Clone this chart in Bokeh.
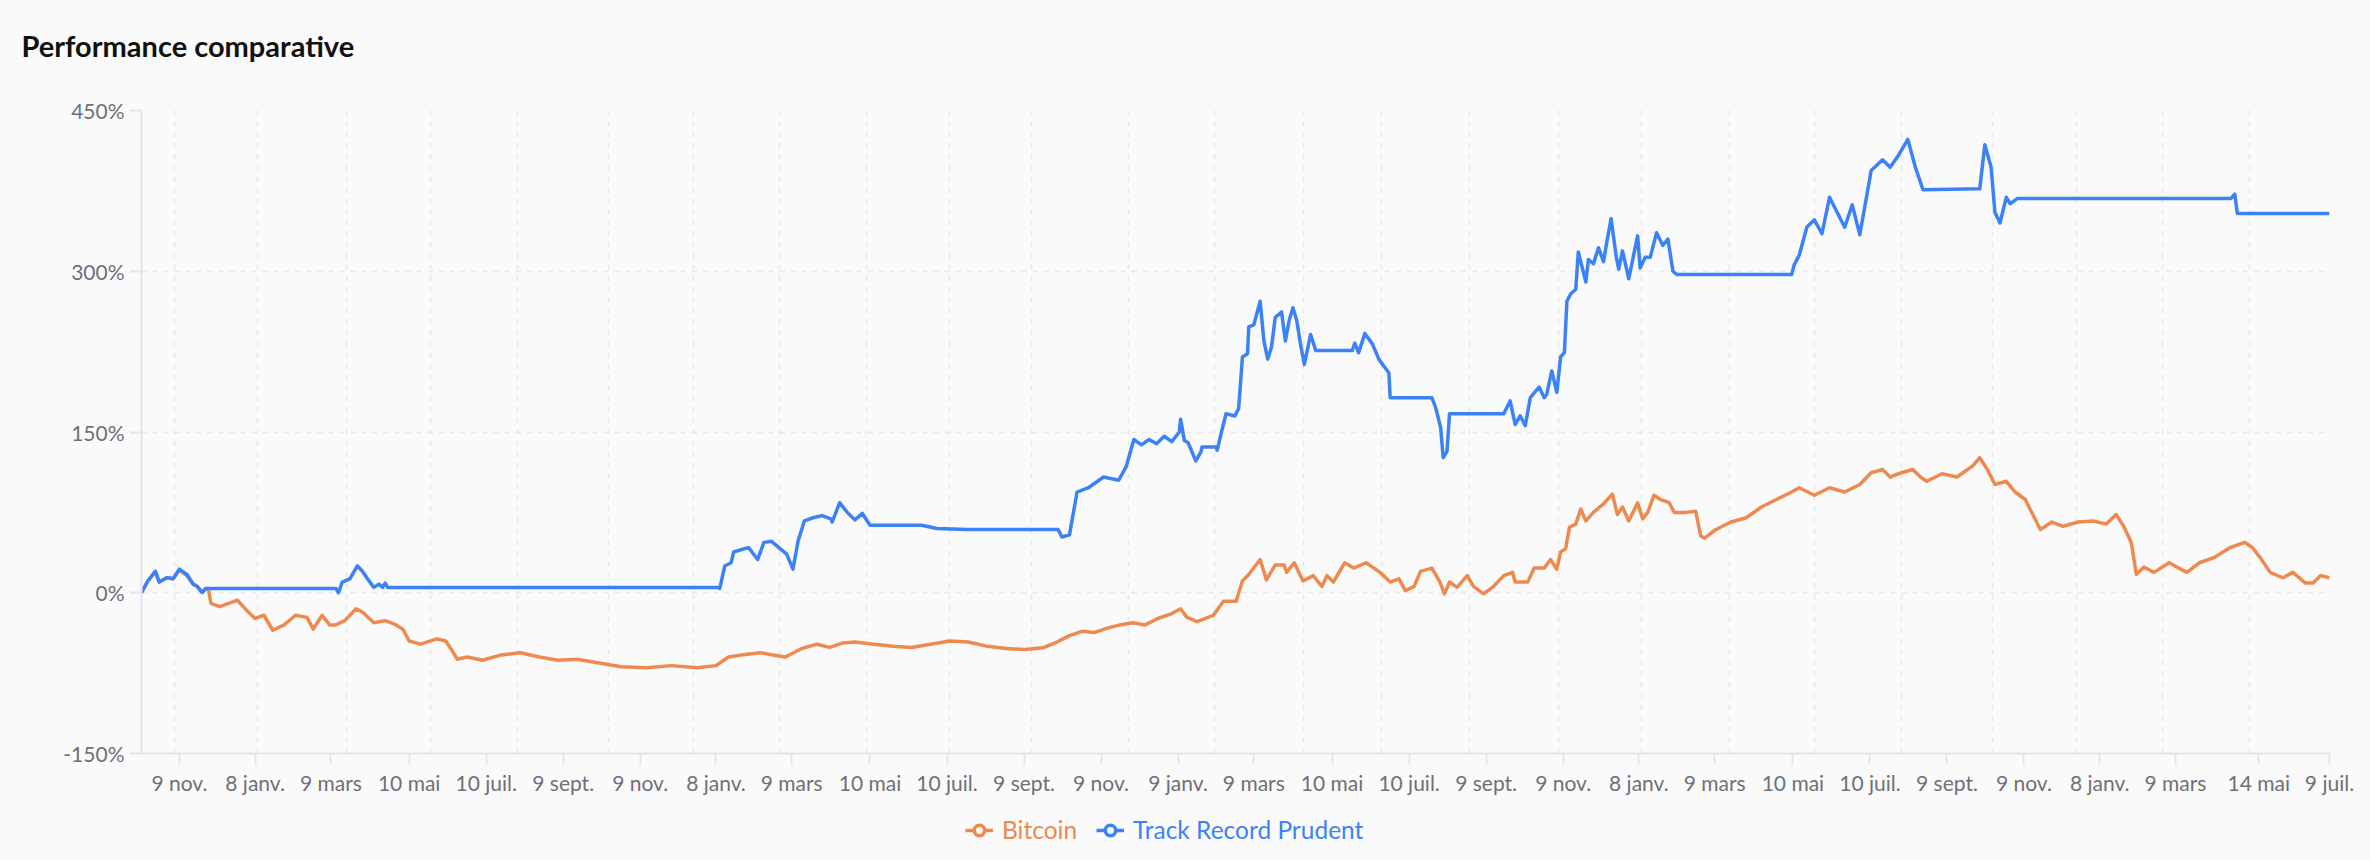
import pandas as pd
from bokeh.plotting import figure
from bokeh.layouts import column
from bokeh.models import (ColumnDataSource, Range1d, FixedTicker, CustomJSTickFormatter,
                          PrintfTickFormatter, Legend, LegendItem)
from bokeh.embed import file_html
from bokeh.resources import INLINE

# ---------------- data ----------------
start_date = "2021-10-10"
end_date = "2026-07-09"

# Bitcoin performance (%) ; x = days since start_date
btc_days = [0, 5, 11, 14, 20, 25, 30, 36, 41, 44, 48, 51, 53, 55, 62, 69, 76, 83, 90, 97, 104, 113, 122, 131,
            136, 143, 149, 154, 161, 170, 175, 184, 193, 200, 207, 212, 221, 234, 241, 246, 250, 258, 270, 285,
            300, 315, 330, 345, 360, 380, 400, 420, 440, 455, 465, 475, 490, 500, 510, 523, 535, 545, 555, 565,
            580, 595, 610, 625, 640, 655, 670, 685, 700, 715, 725, 735, 745, 755, 765, 775, 785, 795, 805, 815,
            823, 828, 836, 849, 857, 867, 872, 877, 886, 891, 898, 905, 907, 913, 920, 928, 935, 939, 944, 953,
            960, 970, 981, 989, 996, 1001, 1008, 1013, 1022, 1028, 1032, 1036, 1042, 1050, 1055, 1063, 1071,
            1079, 1086, 1088, 1098, 1103, 1111, 1116, 1121, 1124, 1128, 1131, 1136, 1140, 1144, 1150, 1158, 1165,
            1169, 1173, 1178, 1185, 1189, 1193, 1198, 1203, 1210, 1214, 1223, 1231, 1235, 1238, 1247, 1259, 1271,
            1283, 1295, 1307, 1313, 1325, 1337, 1349, 1361, 1370, 1379, 1385, 1394, 1403, 1409, 1414, 1426, 1438,
            1450, 1456, 1462, 1468, 1477, 1484, 1492, 1498, 1504, 1513, 1522, 1534, 1546, 1556, 1564, 1570, 1576,
            1580, 1586, 1594, 1606, 1612, 1620, 1630, 1642, 1654, 1666, 1672, 1678, 1686, 1696, 1704, 1714, 1720,
            1726, 1733]
btc_vals = [0, 11, 20, 10, 14, 13, 21, 16, 8, 6, 1, 4, 3, -10, -13, -10, -7, -16, -24, -21, -35, -30, -21, -23,
            -34, -21, -30, -30, -26, -15, -18, -28, -26, -29, -34, -45, -48, -43, -45, -54, -62, -60, -63, -58,
            -56, -60, -63, -62, -65, -69, -70, -68, -70, -68, -60, -58, -56, -58, -60, -52, -48, -51, -47, -46,
            -48, -50, -51, -48, -45, -46, -50, -52, -53, -51, -46, -40, -36, -37, -33, -30, -28, -30, -24, -20,
            -15, -23, -27, -21, -8, -8, 11, 17, 31, 12, 26, 26, 19, 28, 11, 16, 6, 16, 10, 28,
            23, 28, 19, 10, 13, 2, 6, 20, 23, 11, -1, 10, 5, 16, 6, -1, 6,
            16, 19, 10, 10, 23, 23, 31, 22, 38, 41, 61, 64, 78, 67, 75, 83, 92,
            73, 80, 67, 84, 69, 75, 91, 87, 84, 75, 75, 76, 53, 51, 59, 66, 70,
            80, 87, 94, 98, 91, 98, 94, 101, 112, 115, 108, 112, 115, 108, 104, 111, 108,
            118, 126, 115, 101, 104, 94, 87, 73, 59, 66, 62, 66, 67, 64, 73, 62, 47,
            17, 24, 19, 28, 24, 19, 28, 33, 42, 47, 42, 33, 19, 14, 19, 9, 9,
            16, 14]

# Track Record Prudent performance (%)
trp_days = [0, 5, 11, 14, 20, 25, 30, 36, 41, 44, 48, 51, 154, 156, 159, 165, 171, 175, 179, 184, 188, 191, 193,
            195, 456, 458, 462, 467, 469, 477, 481, 488, 493, 499, 506, 511, 516, 520, 525, 532, 539, 546, 547,
            553, 559, 565, 571, 577, 618, 630, 654, 726, 729, 735, 741, 750, 762, 774, 780, 786, 792, 798, 804,
            810, 816, 822, 823, 826, 829, 835, 839, 840, 851, 852, 855, 859, 866, 869, 872, 876, 877, 881, 886,
            889, 892, 895, 898, 903, 906, 909, 912, 915, 918, 921, 926, 930, 959, 961, 964, 969, 975, 980, 985,
            988, 989, 1022, 1025, 1029, 1031, 1034, 1036, 1079, 1084, 1088, 1092, 1096, 1100, 1107, 1111, 1113,
            1117, 1121, 1124, 1127, 1129, 1132, 1136, 1138, 1144, 1146, 1150, 1154, 1158, 1161, 1164, 1168, 1170,
            1173, 1178, 1182, 1185, 1187, 1191, 1195, 1200, 1205, 1209, 1213, 1216, 1307, 1309, 1313, 1319, 1325,
            1331, 1337, 1343, 1349, 1355, 1361, 1370, 1379, 1385, 1391, 1399, 1405, 1411, 1456, 1460, 1465, 1468,
            1472, 1477, 1480, 1486, 1655, 1658, 1660, 1733]
trp_vals = [0, 11, 20, 10, 14, 13, 22, 17, 8, 6, 0, 4, 4, 0, 10, 13, 25, 20, 13, 5, 8, 5, 9,
            5, 5, 4, 25, 28, 38, 41, 42, 31, 47, 48, 41, 36, 22, 48, 67, 70, 72, 69, 66,
            84, 75, 68, 74, 63, 63, 60, 59, 59, 52, 54, 94, 98, 108, 105, 118, 143, 138, 143, 139,
            146, 141, 150, 162, 142, 140, 123, 131, 136, 136, 133, 148, 167, 165, 172, 220, 223, 248, 250, 272,
            235, 218, 229, 257, 262, 235, 254, 266, 254, 232, 213, 241, 226, 226, 233, 224, 242, 232, 218, 210,
            205, 182, 182, 173, 154, 126, 132, 167, 167, 179, 157, 165, 156, 182, 192, 182, 185,
            207, 187, 220, 224, 272, 279, 283, 318, 290, 311, 307, 322, 309, 330, 349, 314, 302,
            319, 293, 316, 333, 303, 313, 313, 336, 324, 330, 300, 297, 297, 306, 315, 341, 348,
            335, 369, 355, 341, 362, 334, 394, 404, 397, 407, 423, 397, 376, 377, 418, 397, 355,
            345, 369, 363, 368, 368, 372, 354, 354]

tick_dates = ["2021-11-09", "2022-01-08", "2022-03-09", "2022-05-10", "2022-07-10", "2022-09-09",
              "2022-11-09", "2023-01-08", "2023-03-09", "2023-05-10", "2023-07-10", "2023-09-09",
              "2023-11-09", "2024-01-09", "2024-03-09", "2024-05-10", "2024-07-10", "2024-09-09",
              "2024-11-09", "2025-01-08", "2025-03-09", "2025-05-10", "2025-07-10", "2025-09-09",
              "2025-11-09", "2026-01-08", "2026-03-09", "2026-05-14", "2026-07-09"]
tick_labels = ["9 nov.", "8 janv.", "9 mars", "10 mai", "10 juil.", "9 sept.",
               "9 nov.", "8 janv.", "9 mars", "10 mai", "10 juil.", "9 sept.",
               "9 nov.", "9 janv.", "9 mars", "10 mai", "10 juil.", "9 sept.",
               "9 nov.", "8 janv.", "9 mars", "10 mai", "10 juil.", "9 sept.",
               "9 nov.", "8 janv.", "9 mars", "14 mai", "9 juil."]
grid_dates = ["2021-11-05", "2022-01-10", "2022-03-21", "2022-05-27", "2022-08-04", "2022-10-15",
              "2022-12-21", "2023-02-27", "2023-05-07", "2023-07-12", "2023-09-15", "2023-12-01",
              "2024-02-07", "2024-04-17", "2024-06-18", "2024-08-27", "2024-11-05", "2025-01-10",
              "2025-03-21", "2025-05-27", "2025-08-04", "2025-10-15", "2025-12-21", "2026-02-27",
              "2026-05-07", "2026-07-09"]
y_ticks = [-150, 0, 150, 300, 450]

title_text = "Performance comparative"
series_names = ["Bitcoin", "Track Record Prudent"]
ORANGE = "#EE8A4F"
BLUE = "#3B82F6"
FONT = "Lato"
LABEL_COLOR = "#6e7079"
BG = "#fafafa"
AXIS_COLOR = "#e3e5ec"
GRID_COLOR = "#e6e7ec"

# ---------------- helpers ----------------
start = pd.Timestamp(start_date)


def to_dt(days):
    return [start + pd.Timedelta(days=int(d)) for d in days]


def to_ms(dates):
    return [int((pd.Timestamp(d) - pd.Timestamp("1970-01-01")) // pd.Timedelta("1ms")) for d in dates]


btc_src = ColumnDataSource(dict(x=to_dt(btc_days), y=btc_vals))
trp_src = ColumnDataSource(dict(x=to_dt(trp_days), y=trp_vals))


def strip(height, top):
    f = figure(width=2370, height=height, output_backend="svg", toolbar_location=None,
               x_range=Range1d(0, 1), y_range=Range1d(0, 1), x_axis_location=None, y_axis_location=None,
               background_fill_color=BG, border_fill_color=BG,
               min_border_left=0, min_border_right=0, min_border_top=top, min_border_bottom=0)
    f.outline_line_color = None
    f.grid.visible = False
    return f


# ---------------- title strip ----------------
tf = strip(80, 75)
tf.title.text = title_text
tf.title.text_font = FONT
tf.title.text_font_style = "bold"
tf.title.text_font_size = "29px"
tf.title.text_color = "#111111"
tf.title.align = "left"
tf.title.offset = -120
tf.title.standoff = 25

# ---------------- main chart ----------------
p = figure(width=2370, height=720, x_axis_type="datetime", output_backend="svg", toolbar_location=None,
           x_range=Range1d(start, pd.Timestamp(end_date)), y_range=Range1d(-150, 450),
           background_fill_color=BG, border_fill_color=BG,
           min_border_left=141, min_border_right=41, min_border_top=30, min_border_bottom=47)
p.outline_line_color = None

xa = p.xaxis[0]
xa.ticker = FixedTicker(ticks=to_ms(tick_dates))
xa.formatter = CustomJSTickFormatter(args=dict(tick_ms=to_ms(tick_dates), tick_lbls=tick_labels), code="""
let best = -1, bd = Infinity;
for (let i = 0; i < tick_ms.length; i++) {
  const d = Math.abs(tick_ms[i] - tick);
  if (d < bd) { bd = d; best = i; }
}
return (best >= 0 && bd < 86400000) ? tick_lbls[best] : "";
""")
ya = p.yaxis[0]
ya.ticker = FixedTicker(ticks=y_ticks)
ya.formatter = PrintfTickFormatter(format="%d%%")
for ax, tick_len in ((xa, 11), (ya, 12)):
    ax.major_label_text_font = FONT
    ax.major_label_text_font_size = "21px"
    ax.major_label_text_color = LABEL_COLOR
    ax.axis_line_color = AXIS_COLOR
    ax.axis_line_width = 2
    ax.major_tick_line_color = AXIS_COLOR
    ax.major_tick_line_width = 2
    ax.major_tick_in = 0
    ax.major_tick_out = tick_len
    ax.minor_tick_line_color = None
    ax.major_label_standoff = 5

p.xgrid.ticker = FixedTicker(ticks=to_ms(grid_dates))
p.ygrid.ticker = FixedTicker(ticks=y_ticks[1:])
for g in (p.xgrid, p.ygrid):
    g.grid_line_color = GRID_COLOR
    g.grid_line_dash = "5 6"
    g.grid_line_width = 1.5

p.line("x", "y", source=btc_src, line_color=ORANGE, line_width=3.5, line_join="round")
p.line("x", "y", source=trp_src, line_color=BLUE, line_width=3.5, line_join="round")

# ---------------- legend strip below the chart ----------------
# (strip frames are aligned with the chart frame by the column layout)
lf = strip(60, 0)


def make_legend(name, src, color, loc):
    # the series drawn again in this strip fall outside its (0..1) view; they only supply the legend icons
    ln = lf.line("x", "y", source=src, line_color=color, line_width=3.5)
    mk = lf.scatter("x", "y", source=src, marker="circle", fill_color=BG, line_color=color, line_width=3.5)
    lg = Legend(items=[LegendItem(label=name, renderers=[ln, mk])], location=loc,
                orientation="horizontal", label_text_color=color, label_text_font=FONT,
                label_text_font_size="24.5px", glyph_width=28, glyph_height=26, label_standoff=9,
                padding=0, margin=0, spacing=0, border_line_color=None, background_fill_alpha=0,
                label_height=26)
    lf.add_layout(lg)


make_legend(series_names[0], btc_src, ORANGE, (824, 16))
make_legend(series_names[1], trp_src, BLUE, (955, 16))

layout = column(tf, p, lf, spacing=0)
html = file_html(layout, INLINE)
html = html.replace("<head>", "<head><style>html, body { margin: 0; background: %s; }</style>" % BG, 1)
open("out.html", "w").write(html)
